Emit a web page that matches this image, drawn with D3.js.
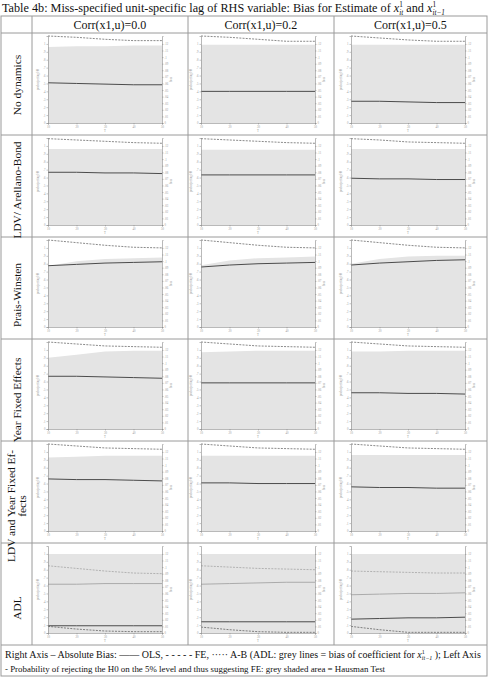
<!DOCTYPE html>
<html>
<head>
<meta charset="utf-8">
<script src="https://cdn.jsdelivr.net/npm/d3@7"></script>
<style>
body { margin: 0; background: #fff; }
text { font-family: "Liberation Serif", "Times New Roman", serif; }
</style>
</head>
<body>
<svg id="chart"></svg>
<script>
// x values (T)
const tValues = [10, 20, 30, 40, 50];
const corrLabels = ["Corr(x1,u)=0.0", "Corr(x1,u)=0.2", "Corr(x1,u)=0.5"];
const modelLabels = [["No dynamics"], ["LDV/ Arellano-Bond"], ["Prais-Winsten"],
    ["Year Fixed Effects"], ["LDV and Year Fixed Ef-", "fects"], ["ADL"]];
const probTicks = [0, .1, .2, .3, .4, .5, .6, .7, .8, .9, 1];
const biasTicks = [0, .01, .02, .03, .04, .05, .06, .07, .08, .09, .1, .11, .12];

// grey shaded area: Hausman test rejection probability (left axis), [row][col]
const hausmanProb = [
    [[0.96, 0.97, 0.97, 0.98, 0.98], [0.99, 0.99, 0.99, 0.99, 0.99], [0.99, 0.99, 0.99, 0.99, 0.99]],
    [[0.96, 0.96, 0.96, 0.96, 0.96], [0.95, 0.95, 0.95, 0.95, 0.95], [0.96, 0.96, 0.96, 0.96, 0.96]],
    [[0.77, 0.83, 0.86, 0.87, 0.88], [0.78, 0.84, 0.87, 0.88, 0.89], [0.80, 0.86, 0.89, 0.90, 0.90]],
    [[0.90, 0.94, 0.98, 0.99, 0.99], [0.97, 0.98, 0.99, 0.99, 0.99], [0.98, 0.98, 0.99, 0.99, 0.99]],
    [[0.93, 0.94, 0.95, 0.95, 0.95], [0.95, 0.95, 0.95, 0.95, 0.95], [0.96, 0.96, 0.96, 0.96, 0.96]],
    [[1, 1, 1, 1, 1], [1, 1, 1, 1, 1], [1, 1, 1, 1, 1]]
];
// solid line: OLS absolute bias (right axis)
const olsBias = [
    [[0.061, 0.060, 0.059, 0.058, 0.058], [0.048, 0.048, 0.048, 0.048, 0.048], [0.033, 0.033, 0.032, 0.031, 0.031]],
    [[0.080, 0.080, 0.079, 0.079, 0.078], [0.076, 0.076, 0.076, 0.076, 0.076], [0.071, 0.070, 0.070, 0.069, 0.069]],
    [[0.093, 0.095, 0.097, 0.098, 0.099], [0.091, 0.094, 0.096, 0.097, 0.098], [0.094, 0.097, 0.099, 0.101, 0.102]],
    [[0.080, 0.080, 0.079, 0.078, 0.077], [0.070, 0.070, 0.070, 0.070, 0.070], [0.055, 0.055, 0.054, 0.054, 0.053]],
    [[0.079, 0.078, 0.078, 0.077, 0.076], [0.073, 0.073, 0.072, 0.072, 0.072], [0.067, 0.066, 0.066, 0.065, 0.065]],
    [[0.011, 0.011, 0.011, 0.011, 0.011], [0.017, 0.017, 0.017, 0.017, 0.017], [0.021, 0.022, 0.023, 0.023, 0.024]]
];
// dashed line: FE absolute bias (right axis)
const feBias = [
    [[0.132, 0.130, 0.127, 0.125, 0.125], [0.132, 0.130, 0.127, 0.124, 0.124], [0.132, 0.129, 0.126, 0.124, 0.124]],
    [[0.131, 0.129, 0.127, 0.125, 0.124], [0.131, 0.129, 0.127, 0.125, 0.124], [0.131, 0.129, 0.126, 0.125, 0.124]],
    [[0.132, 0.128, 0.124, 0.121, 0.120], [0.132, 0.128, 0.124, 0.121, 0.120], [0.132, 0.128, 0.124, 0.121, 0.120]],
    [[0.132, 0.129, 0.126, 0.125, 0.124], [0.132, 0.129, 0.126, 0.125, 0.124], [0.132, 0.129, 0.126, 0.125, 0.124]],
    [[0.132, 0.129, 0.126, 0.125, 0.124], [0.132, 0.129, 0.126, 0.125, 0.124], [0.132, 0.129, 0.126, 0.125, 0.124]],
    [[0.010, 0.006, 0.003, 0.002, 0.002], [0.009, 0.005, 0.002, 0.001, 0.001], [0.010, 0.005, 0.001, 0.001, 0.001]]
];
// ADL only: grey lines = bias of coefficient for the lag
const adlLagOls = [[0.074, 0.074, 0.075, 0.075, 0.075], [0.074, 0.075, 0.076, 0.077, 0.077], [0.058, 0.059, 0.060, 0.060, 0.061]];
const adlLagFe = [[0.102, 0.098, 0.094, 0.091, 0.090], [0.102, 0.100, 0.098, 0.097, 0.096], [0.094, 0.093, 0.092, 0.091, 0.091]];

const svgWidth = 489, svgHeight = 677;
const colEdges = [1, 32, 188, 334, 487];
const tableTop = 16, headerBottom = 33, rowHeight = 102, footerBottom = 676;
const plotLeft = [48, 201, 351], plotWidth = 114;
// row labels sit low in their cells
const labelOffset = [52, 55, 58, 61, 65, 65];
const lineColor = "#9a9a9a";

const chart = d3.select("#chart").attr("width", svgWidth).attr("height", svgHeight);

// x with superscript 1 and a subscript; caller resets baseline
function xSymbol(parent, sub, size) {
    parent.append("tspan").attr("font-style", "italic").text("x");
    parent.append("tspan").attr("font-size", size * 0.6).attr("dy", -size * 0.38).text("1");
    parent.append("tspan").attr("font-size", size * 0.6).attr("font-style", "italic")
        .attr("dx", -size * 0.3).attr("dy", size * 0.62).text(sub);
}

// title with x^1_it and x^1_it-1
var titleSize = 12.2;
var title = chart.append("text").attr("x", 2).attr("y", 12).attr("font-size", titleSize).attr("fill", "#111");
title.append("tspan").text("Table 4b: Miss-specified unit-specific lag of RHS variable: Bias for Estimate of  ");
xSymbol(title, "it", titleSize);
title.append("tspan").attr("dy", -titleSize * 0.24).text(" and  ");
xSymbol(title, "it\u22121", titleSize);

// table grid
const rowsBottom = headerBottom + rowHeight * modelLabels.length;
var grid = chart.append("g").attr("stroke", lineColor).attr("stroke-width", 1).attr("fill", "none");
grid.append("rect").attr("x", colEdges[0]).attr("y", tableTop)
    .attr("width", colEdges[4] - colEdges[0]).attr("height", footerBottom - tableTop);
colEdges.slice(1, 4).forEach(function(x) {
    grid.append("line").attr("x1", x).attr("x2", x).attr("y1", tableTop).attr("y2", rowsBottom);
});
d3.range(modelLabels.length + 1).forEach(function(i) {
    var y = headerBottom + i * rowHeight;
    grid.append("line").attr("x1", colEdges[0]).attr("x2", colEdges[4]).attr("y1", y).attr("y2", y);
});

// column headers
corrLabels.forEach(function(lab, c) {
    chart.append("text").attr("x", (colEdges[c + 1] + colEdges[c + 2]) / 2).attr("y", 28.5)
        .attr("text-anchor", "middle").attr("font-size", 12).attr("fill", "#111").text(lab);
});

// row labels, rotated
modelLabels.forEach(function(lines, r) {
    var cy = headerBottom + r * rowHeight + labelOffset[r];
    var cx = (colEdges[0] + colEdges[1]) / 2 + 4;
    var t = chart.append("text").attr("transform", "translate(" + cx + "," + cy + ") rotate(-90)")
        .attr("text-anchor", "middle").attr("font-size", 11.4).attr("fill", "#111");
    lines.forEach(function(l, i) {
        t.append("tspan").attr("x", 0).attr("y", (i - (lines.length - 1) / 2) * 10.5).text(l);
    });
});

function fmtTick(d) {
    if (d === 0) return "0";
    if (d === 1) return "1";
    return d3.format(".2~f")(d).replace(/^0/, "");
}

function styleAxis(sel) {
    sel.select(".domain").attr("stroke", "#8a8a8a").attr("stroke-width", 0.6);
    sel.selectAll(".tick line").attr("stroke", "#8a8a8a").attr("stroke-width", 0.5);
    sel.selectAll(".tick text").attr("font-size", 3).attr("fill", "#999").attr("font-family", "Liberation Sans, sans-serif");
}

function drawPanel(r, c) {
    var rowTop = headerBottom + r * rowHeight;
    var yBottom = rowTop + 90, yTop = rowTop + 3;
    var x0 = plotLeft[c], x1 = plotLeft[c] + plotWidth;
    var xScale = d3.scaleLinear().domain([10, 50]).range([x0, x1]);
    var probScale = d3.scaleLinear().domain([0, 1.1]).range([yBottom, yTop]);
    var biasScale = d3.scaleLinear().domain([0, 0.132]).range([yBottom, yTop]);
    var g = chart.append("g");

    var shade = tValues.map(function(t, i) { return {t: t, v: hausmanProb[r][c][i]}; });
    g.append("path").datum(shade)
        .attr("fill", "#e4e4e4")
        .attr("d", d3.area().x(function(d) { return xScale(d.t); }).y0(yBottom).y1(function(d) { return probScale(d.v); }));

    var biasLine = d3.line().x(function(d) { return xScale(d.t); }).y(function(d) { return biasScale(d.v); });
    function series(vals) { return tValues.map(function(t, i) { return {t: t, v: vals[i]}; }); }

    if (r === modelLabels.length - 1) {
        g.append("path").datum(series(adlLagFe[c])).attr("fill", "none").attr("stroke", "#9c9c9c")
            .attr("stroke-width", 0.7).attr("stroke-dasharray", "2,1.2").attr("d", biasLine);
        g.append("path").datum(series(adlLagOls[c])).attr("fill", "none").attr("stroke", "#9c9c9c")
            .attr("stroke-width", 0.8).attr("d", biasLine);
    }
    g.append("path").datum(series(feBias[r][c])).attr("fill", "none").attr("stroke", "#3a3a3a")
        .attr("stroke-width", 0.6).attr("stroke-dasharray", "2,1.2").attr("d", biasLine);
    g.append("path").datum(series(olsBias[r][c])).attr("fill", "none").attr("stroke", "#3a3a3a")
        .attr("stroke-width", 0.9).attr("d", biasLine);

    g.append("g").attr("transform", "translate(" + x0 + ",0)")
        .call(d3.axisLeft(probScale).tickValues(probTicks).tickSize(1.5).tickPadding(1).tickFormat(fmtTick))
        .call(styleAxis);
    g.append("g").attr("transform", "translate(" + x1 + ",0)")
        .call(d3.axisRight(biasScale).tickValues(biasTicks).tickSize(1.5).tickPadding(1).tickFormat(fmtTick))
        .call(styleAxis);
    g.append("g").attr("transform", "translate(0," + yBottom + ")")
        .call(d3.axisBottom(xScale).tickValues(tValues).tickSize(1.5).tickPadding(1))
        .call(styleAxis);

    // axis titles
    g.append("text").attr("transform", "translate(" + (x0 - 9) + "," + ((yTop + yBottom) / 2) + ") rotate(-90)")
        .attr("text-anchor", "middle").attr("font-size", 3).attr("fill", "#999")
        .attr("font-family", "Liberation Sans, sans-serif").text("prob rejecting H0");
    g.append("text").attr("transform", "translate(" + (x1 + 10) + "," + ((yTop + yBottom) / 2) + ") rotate(-90)")
        .attr("text-anchor", "middle").attr("font-size", 3).attr("fill", "#999")
        .attr("font-family", "Liberation Sans, sans-serif").text("bias");
    g.append("text").attr("x", (x0 + x1) / 2).attr("y", yBottom + 9)
        .attr("text-anchor", "middle").attr("font-size", 3).attr("fill", "#999")
        .attr("font-family", "Liberation Sans, sans-serif").text("T");
}

d3.range(modelLabels.length).forEach(function(r) {
    d3.range(corrLabels.length).forEach(function(c) { drawPanel(r, c); });
});

// footer legend
var footSize = 10;
var foot1 = chart.append("text").attr("x", 5).attr("y", rowsBottom + 13).attr("font-size", footSize).attr("fill", "#111");
foot1.append("tspan").text("Right Axis \u2013 Absolute Bias: \u2014\u2014 OLS, - - - - - FE, \u00b7\u00b7\u00b7\u00b7\u00b7 A-B (ADL: grey lines = bias of coefficient for  ");
xSymbol(foot1, "it\u22121", footSize);
foot1.append("tspan").attr("dy", -footSize * 0.24).text(" ); Left Axis");
chart.append("text").attr("x", 5).attr("y", rowsBottom + 26.5).attr("font-size", 8.9).attr("fill", "#111")
    .text("- Probability of rejecting the H0 on the 5% level and thus suggesting FE: grey shaded area = Hausman Test");
</script>
</body>
</html>
